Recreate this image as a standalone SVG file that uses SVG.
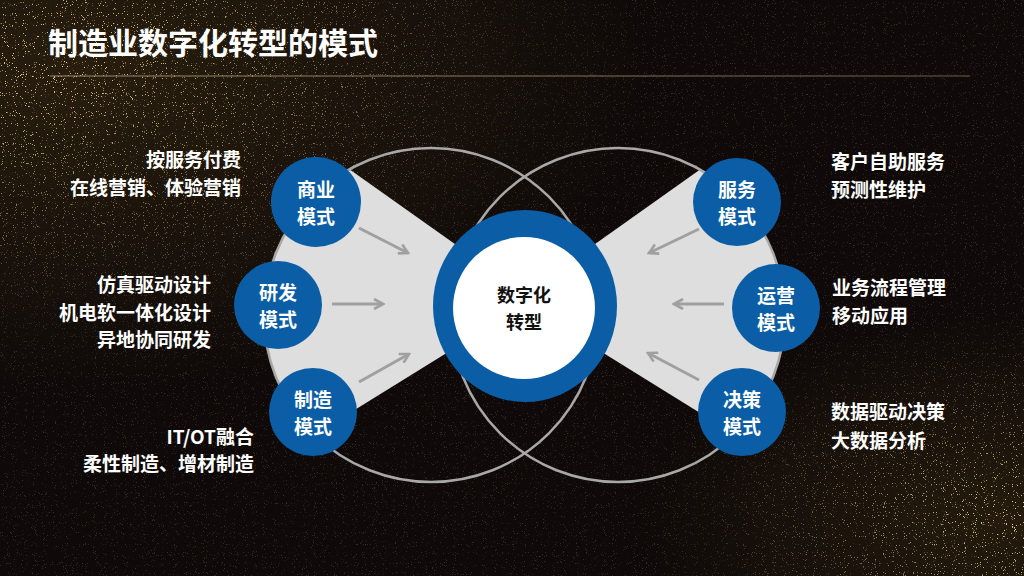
<svg xmlns="http://www.w3.org/2000/svg" width="1024" height="576" viewBox="0 0 1024 576">
<style>
.t{font-family:"Noto Sans CJK SC","Noto Sans",sans-serif;font-weight:bold}
.w{fill:#ffffff;font-size:19px}
.c{fill:#ffffff;font-size:19px;text-anchor:middle}
.k{fill:#111111;font-size:18px;text-anchor:middle}
.node{fill:#0b5ea6}
.big{fill:none;stroke:#a8a8a8;stroke-width:2.5}
.fan{fill:#dedede}
.arr{fill:none;stroke:#a0a0a0;stroke-width:3;marker-end:url(#ah)}
</style>
<defs>
<marker id="ah" viewBox="0 0 12 12" refX="10" refY="6" markerWidth="12" markerHeight="12" markerUnits="userSpaceOnUse" orient="auto">
<path d="M1,1 L10,6 L1,11" fill="none" stroke="#a0a0a0" stroke-width="2.6"/>
</marker>
<radialGradient id="glowTL" cx="0.08" cy="0.12" r="0.55">
<stop offset="0" stop-color="#2e2210" stop-opacity="0.8"/>
<stop offset="1" stop-color="#2e2210" stop-opacity="0"/>
</radialGradient>
<radialGradient id="glowBR" cx="0.98" cy="0.9" r="0.35">
<stop offset="0" stop-color="#2e2210" stop-opacity="0.7"/>
<stop offset="1" stop-color="#2e2210" stop-opacity="0"/>
</radialGradient>
<radialGradient id="mTL" cx="0.05" cy="0.1" r="0.45">
<stop offset="0" stop-color="#fff"/>
<stop offset="1" stop-color="#fff" stop-opacity="0"/>
</radialGradient>
<radialGradient id="mBR" cx="1" cy="0.9" r="0.3">
<stop offset="0" stop-color="#fff"/>
<stop offset="1" stop-color="#fff" stop-opacity="0"/>
</radialGradient>
<mask id="spkMask" maskUnits="userSpaceOnUse" x="0" y="0" width="1024" height="576">
<rect width="1024" height="576" fill="#2a2a2a"/>
<rect width="1024" height="576" fill="url(#mTL)"/>
<rect width="1024" height="576" fill="url(#mBR)"/>
</mask>
<filter id="spk" filterUnits="userSpaceOnUse" x="0" y="0" width="1024" height="576">
<feTurbulence type="fractalNoise" baseFrequency="0.9" numOctaves="2" seed="7"/>
<feColorMatrix type="matrix" values="0 0 0 0 0.88  0 0 0 0 0.7  0 0 0 0 0.3  12 0 0 0 -7.9"/>
</filter>
<linearGradient id="rule" x1="0" x2="1" y1="0" y2="0">
<stop offset="0" stop-color="#a08a68"/>
<stop offset="1" stop-color="#6a5a48"/>
</linearGradient>
</defs>

<g id="background">
<rect width="1024" height="576" fill="#0f0a09"/>
<rect width="1024" height="576" fill="url(#glowTL)"/>
<rect width="1024" height="576" fill="url(#glowBR)"/>
<rect width="1024" height="576" fill="#000" filter="url(#spk)" mask="url(#spkMask)"/>
</g>

<g id="title">
<text class="t" x="48" y="54" font-size="30" fill="#ffffff">制造业数字化转型的模式</text>
<rect x="50" y="75.5" width="920" height="1" fill="url(#rule)"/>
</g>

<g id="fans">
<path class="fan" d="M524,293 L349.4,169.3 A167,167 0 0 0 314.6,434.7 L524,305 Z"/>
<path class="fan" d="M526,293 L700.1,169.6 A167,167 0 0 1 734.8,434.4 L526,305 Z"/>
</g>

<g id="rings">
<circle class="big" cx="431" cy="315" r="167"/>
<circle class="big" cx="618" cy="315" r="167"/>
</g>

<g id="connectors">
<line class="arr" x1="359" y1="228" x2="408" y2="253"/>
<line class="arr" x1="332" y1="304" x2="383" y2="304"/>
<line class="arr" x1="359" y1="382" x2="409" y2="354"/>
<line class="arr" x1="699" y1="229" x2="649" y2="253"/>
<line class="arr" x1="724" y1="304" x2="674" y2="304"/>
<line class="arr" x1="699" y1="380" x2="648" y2="353"/>
</g>

<g id="center">
<ellipse cx="525" cy="306" rx="92" ry="96" fill="#0b5ea6"/>
<circle cx="524" cy="308" r="71" fill="#ffffff"/>
<text class="t k" x="524" y="302">数字化</text>
<text class="t k" x="524" y="328.5">转型</text>
</g>

<g id="node-business">
<circle class="node" cx="316" cy="202" r="45"/>
<text class="t c" x="316" y="197">商业</text>
<text class="t c" x="316" y="224">模式</text>
</g>
<g id="node-rnd">
<circle class="node" cx="278" cy="305" r="44"/>
<text class="t c" x="278" y="300">研发</text>
<text class="t c" x="278" y="327">模式</text>
</g>
<g id="node-manufacturing">
<circle class="node" cx="313" cy="412" r="44"/>
<text class="t c" x="313" y="407">制造</text>
<text class="t c" x="313" y="434">模式</text>
</g>
<g id="node-service">
<circle class="node" cx="737" cy="202" r="44"/>
<text class="t c" x="737" y="197">服务</text>
<text class="t c" x="737" y="224">模式</text>
</g>
<g id="node-operation">
<circle class="node" cx="776" cy="308" r="44"/>
<text class="t c" x="776" y="303">运营</text>
<text class="t c" x="776" y="330">模式</text>
</g>
<g id="node-decision">
<circle class="node" cx="742" cy="412" r="44"/>
<text class="t c" x="742" y="407">决策</text>
<text class="t c" x="742" y="434">模式</text>
</g>

<g id="labels-left" text-anchor="end">
<text class="t w" x="241" y="167">按服务付费</text>
<text class="t w" x="241" y="195">在线营销、体验营销</text>
<text class="t w" x="211" y="292">仿真驱动设计</text>
<text class="t w" x="211" y="320">机电软一体化设计</text>
<text class="t w" x="211" y="347">异地协同研发</text>
<text class="t w" x="254" y="444">IT/OT融合</text>
<text class="t w" x="254" y="471">柔性制造、增材制造</text>
</g>
<g id="labels-right">
<text class="t w" x="831" y="169">客户自助服务</text>
<text class="t w" x="831" y="197">预测性维护</text>
<text class="t w" x="832" y="295">业务流程管理</text>
<text class="t w" x="832" y="323">移动应用</text>
<text class="t w" x="831" y="419">数据驱动决策</text>
<text class="t w" x="831" y="448">大数据分析</text>
</g>
</svg>
